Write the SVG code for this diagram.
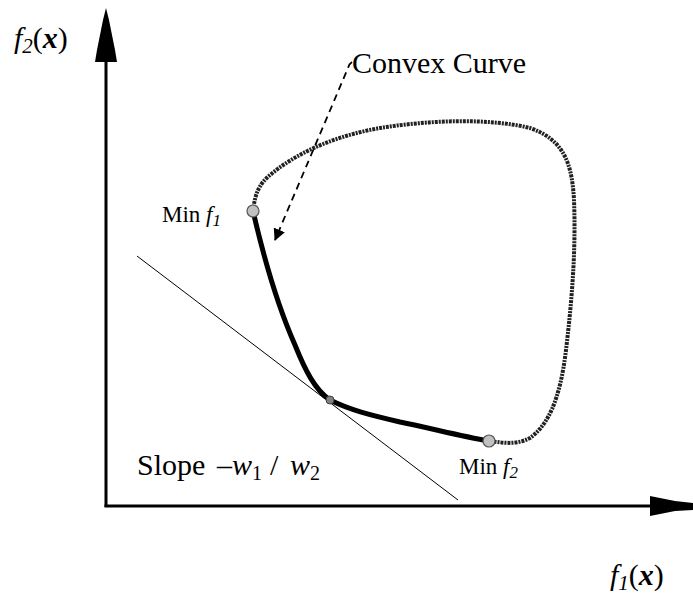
<svg xmlns="http://www.w3.org/2000/svg" width="693" height="594" viewBox="0 0 693 594">
<style>
.t{font-family:"Liberation Serif","Times New Roman",serif;fill:#000}
.i{font-style:italic}
.b{font-weight:bold;font-style:italic}
.axis{stroke:#000;stroke-width:3;fill:none}
.pt{fill:#c0c0c0;stroke:#555;stroke-width:1.2}
</style>
<defs>
<marker id="ah" markerWidth="12" markerHeight="12" refX="11" refY="6" orient="auto" markerUnits="userSpaceOnUse" viewBox="0 0 12 12">
<path d="M0,0 L12,6 L0,12 z" fill="#000"/>
</marker>
</defs>
<rect width="693" height="594" fill="#fff"/>
<g id="axes">
<line class="axis" x1="106" y1="60" x2="106" y2="507"/>
<line class="axis" x1="104.5" y1="506" x2="650" y2="506"/>
<path d="M106,8 L109,20 L112,35 L115,50 L117,62 L95,62 L97,50 L100,35 L103,20 z" fill="#000"/>
<path d="M650,496 L660,498 L675,501 L693,503 L693,510 L675,511 L660,514 L650,516 z" fill="#000"/>
</g>
<g id="curve">
<path d="M253,211 C255,195 258,185 270,175 C300,150 340,135 380,128 C430,120 490,118 530,128 C565,140 572,165 574,200 C576,250 572,300 566,350 C560,400 548,425 530,438 C515,446 500,442 489,441" fill="none" stroke="#222" stroke-width="4" stroke-dasharray="3 1 2 1"/>
<path d="M253,211 C262,250 275,300 295,345 C305,370 315,390 330,400 C350,410 370,415 400,422 C430,428 460,436 489,441" fill="none" stroke="#000" stroke-width="5"/>
</g>
<g id="tangent">
<line x1="137" y1="256" x2="458" y2="500" stroke="#000" stroke-width="1"/>
</g>
<g id="connectors">
<path d="M352,62 Q349,64 348,68 L275,240" fill="none" stroke="#000" stroke-width="1.8" stroke-dasharray="7 5" marker-end="url(#ah)"/>
</g>
<g id="minf1">
<circle class="pt" cx="253" cy="211" r="6"/>
<text class="t" x="162" y="222" font-size="23">Min <tspan class="i">f</tspan><tspan class="i" font-size="17" dy="4">1</tspan></text>
</g>
<g id="tangentpoint">
<circle cx="330" cy="400" r="4" fill="#808080" stroke="#444" stroke-width="1"/>
</g>
<g id="minf2">
<circle class="pt" cx="489" cy="441" r="6"/>
<text class="t" x="459" y="474" font-size="23">Min <tspan class="i">f</tspan><tspan class="i" font-size="17" dy="4">2</tspan></text>
</g>
<g id="labels">
<text class="t" x="352" y="73" font-size="30">Convex Curve</text>
<text class="t" y="475" font-size="30"><tspan x="137">Slope</tspan><tspan x="217">–</tspan><tspan class="i">w</tspan><tspan font-size="20" dy="5">1</tspan><tspan x="270" dy="-5">/</tspan><tspan x="290" class="i">w</tspan><tspan font-size="20" dy="5">2</tspan></text>
<text class="t" x="14" y="48" font-size="30"><tspan class="i">f</tspan><tspan class="i" font-size="21" dy="5">2</tspan><tspan dy="-5">(</tspan><tspan class="b">x</tspan>)</text>
<text class="t" x="610" y="585" font-size="30"><tspan class="i">f</tspan><tspan class="i" font-size="21" dy="5">1</tspan><tspan dy="-5">(</tspan><tspan class="b">x</tspan>)</text>
</g>
</svg>
